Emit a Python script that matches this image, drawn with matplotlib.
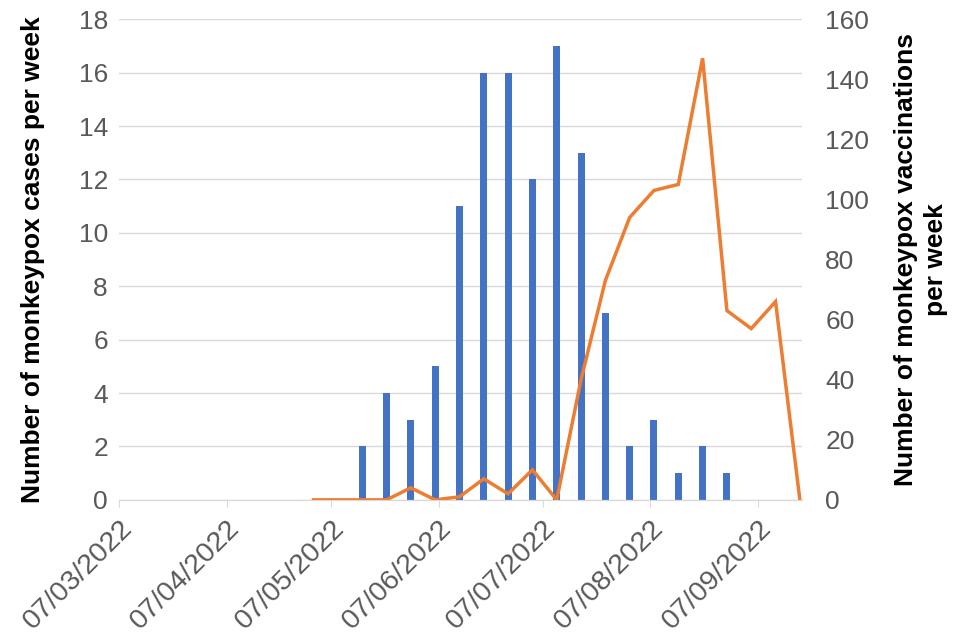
import matplotlib.pyplot as plt
import matplotlib.dates as mdates
import numpy as np
import pandas as pd

plt.rcParams['font.family'] = ['Liberation Sans', 'DejaVu Sans']

# weekly cases (bars) and vaccinations (line)
case_weeks = pd.date_range('2022-05-16', periods=16, freq='7D')
cases = [2, 4, 3, 5, 11, 16, 16, 12, 17, 13, 7, 2, 3, 1, 2, 1]

vacc_weeks = pd.date_range('2022-05-02', periods=21, freq='7D')
vaccinations = [0, 0, 0, 0, 4, 0, 1, 7, 2, 10, 0, 40, 73, 94, 103, 105, 147, 63, 57, 66, 0]

tick_dates = pd.to_datetime(['2022-03-07', '2022-04-07', '2022-05-07', '2022-06-07',
                             '2022-07-07', '2022-08-07', '2022-09-07'])

blue = '#4472C4'
orange = '#ED7D31'
grey = '#595959'

fig = plt.figure(figsize=(9.6, 6.4), dpi=100)
ax = fig.add_axes([0.124, 0.219, 0.711, 0.751])
ax2 = ax.twinx()

ax.bar(case_weeks, cases, width=2.0, color=blue, zorder=2)
ax2.plot(vacc_weeks, vaccinations, color=orange, linewidth=2.5, solid_joinstyle='miter')

ax.set_xlim(pd.Timestamp('2022-03-07'), pd.Timestamp('2022-09-19 12:00'))
ax.set_ylim(0, 18)
ax2.set_ylim(0, 160)
ax.set_yticks(np.arange(0, 19, 2))
ax2.set_yticks(np.arange(0, 161, 20))

ax.set_xticks(tick_dates)
ax.xaxis.set_major_formatter(mdates.DateFormatter('%d/%m/%Y'))
for lbl in ax.get_xticklabels():
    lbl.set_rotation(45)
    lbl.set_ha('right')
    lbl.set_rotation_mode('anchor')

ax.grid(axis='y', color='#D9D9D9', linewidth=1)
ax.set_axisbelow(True)

for a in (ax, ax2):
    for s in ('top', 'left', 'right'):
        a.spines[s].set_visible(False)
    a.spines['bottom'].set_color('#D9D9D9')
    a.tick_params(axis='both', labelsize=19, labelcolor=grey, colors=grey)
ax.tick_params(axis='y', length=0, pad=8)
ax2.tick_params(axis='y', length=0, pad=17)
ax.tick_params(axis='x', length=5, color='#D9D9D9', pad=6, labelsize=20.5)

ax.set_ylabel('Number of monkeypox cases per week', fontsize=19,
              fontweight='bold', labelpad=24)
ax2.set_ylabel('Number of monkeypox vaccinations\nper week', fontsize=19,
               fontweight='bold', rotation=90, labelpad=18, linespacing=1.3)

fig.savefig('out.png', dpi=100)
